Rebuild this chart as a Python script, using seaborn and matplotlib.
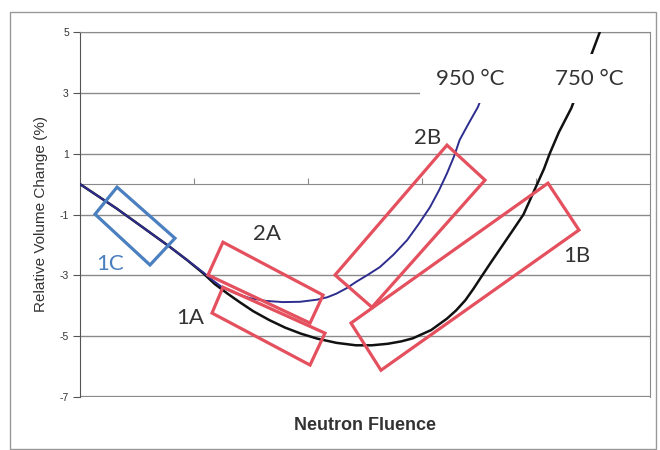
import seaborn as sns
import matplotlib.pyplot as plt
from matplotlib.patches import Polygon, Rectangle

# curves (fluence in arbitrary units, volume change in %)
fluence_750 = [0.0, 0.16, 0.32, 0.55, 0.79, 0.94, 1.08, 1.18, 1.29, 1.4, 1.52, 1.66,
               1.8, 1.94, 2.08, 2.25, 2.42, 2.56, 2.7, 2.82, 2.92, 3.08, 3.22, 3.3,
               3.38, 3.45, 3.52, 3.6, 3.7, 3.8, 3.89, 3.95, 4.01, 4.07, 4.12, 4.2,
               4.31, 4.4, 4.49, 4.56]
change_750 = [0.0, -0.4, -0.8, -1.42, -2.07, -2.5, -2.93, -3.28, -3.59, -3.88, -4.18, -4.47,
              -4.72, -4.92, -5.08, -5.22, -5.3, -5.3, -5.25, -5.17, -5.07, -4.8, -4.42, -4.15,
              -3.82, -3.45, -3.05, -2.6, -2.05, -1.5, -1.0, -0.5, 0.0, 0.5, 1.0, 1.7,
              2.5, 3.4, 4.3, 5.0]

fluence_950 = [0.0, 0.16, 0.32, 0.55, 0.79, 0.94, 1.08, 1.17, 1.25, 1.37, 1.49, 1.63,
               1.78, 1.93, 2.08, 2.17, 2.25, 2.34, 2.42, 2.53, 2.63, 2.75, 2.87, 2.97,
               3.07, 3.15, 3.22, 3.28, 3.33, 3.41, 3.49, 3.56]
change_950 = [0.0, -0.4, -0.8, -1.42, -2.07, -2.5, -2.9, -3.18, -3.4, -3.6, -3.75, -3.84,
              -3.88, -3.87, -3.8, -3.72, -3.6, -3.42, -3.22, -2.97, -2.73, -2.32, -1.84, -1.32,
              -0.76, -0.2, 0.36, 0.9, 1.45, 2.0, 2.53, 3.2]

yticks = [5, 3, 1, -1, -3, -5, -7]
ytick_labels = ["5", "3", "1", "-1", "-3", "-5", "-7"]

# regions drawn on the chart: corner points (fluence, % change)
regions = {
    "1C": [(0.325, -0.10), (0.833, -1.78), (0.614, -2.66), (0.132, -0.99)],
    "2A": [(1.254, -1.91), (2.132, -3.65), (2.018, -4.57), (1.123, -2.99)],
    "1A": [(1.254, -3.39), (2.149, -4.90), (2.018, -5.95), (1.158, -4.24)],
    "2B": [(3.219, 1.28), (3.553, 0.13), (2.561, -4.05), (2.237, -2.99)],
    "1B": [(4.105, 0.03), (4.377, -1.51), (2.640, -6.12), (2.377, -4.57)],
}
region_label_pos = {"1C": (0.26, -2.63), "2A": (1.64, -1.64), "1A": (0.97, -4.4),
                    "2B": (3.05, 1.5), "1B": (4.36, -2.37)}

sns.set_style("white")
plt.rcParams['font.family'] = ['Liberation Sans', 'DejaVu Sans']

fig = plt.figure(figsize=(6.6, 4.5), dpi=100)
ax = fig.add_axes([80/660, 1-397/450, 570/660, 365/450])

sns.lineplot(x=fluence_750, y=change_750, sort=False, estimator=None,
             color='#111111', lw=1.8, ax=ax, zorder=3, solid_joinstyle='round')
sns.lineplot(x=fluence_950, y=change_950, sort=False, estimator=None,
             color='#2d2d8f', lw=1.4, ax=ax, zorder=3, solid_joinstyle='round')

red = '#e4505e'
blue = '#4a7fc0'
for name, pts in regions.items():
    c = blue if name == "1C" else red
    ax.add_patch(Polygon(pts, closed=True, fill=False, ec=c, lw=2.3, zorder=4))
    lx, ly = region_label_pos[name]
    ax.text(lx, ly, name, color=c if name == "1C" else '#333333', fontsize=16,
            family=['Lato', 'DejaVu Sans'], ha='center', va='center', zorder=6)

# white label box that hides the curve ends
ax.add_patch(Rectangle((2.98, 2.65), 2.02, 1.62, fc='white', ec='none', zorder=5))
ax.text(3.42, 3.45, "950 °C", fontsize=16, color='#333333', family=['Lato', 'DejaVu Sans'],
        ha='center', va='center', zorder=6)
ax.text(4.47, 3.45, "750 °C", fontsize=16, color='#333333', family=['Lato', 'DejaVu Sans'],
        ha='center', va='center', zorder=6)

ax.set_xlim(0, 5)
ax.set_ylim(-7, 5)
ax.set_yticks(yticks)
ax.set_yticklabels(ytick_labels, fontsize=7.5, color='#333333')
ax.set_xticks([1, 2, 3, 4])
ax.set_xticklabels([])
ax.yaxis.grid(True, color='#8a8a8a', lw=1)
ax.set_axisbelow(True)

ax.spines['bottom'].set_position(('data', 0))
ax.spines['bottom'].set_color('#8a8a8a')
ax.spines['left'].set_color('#555555')
ax.spines['top'].set_color('#8a8a8a')
ax.spines['right'].set_color('#8a8a8a')
ax.axhline(-7, color='#8a8a8a', lw=1.6, zorder=2)
ax.tick_params(axis='y', direction='out', length=5, width=0.8, color='#555555', left=True, pad=3)
ax.tick_params(axis='x', direction='in', length=4, width=0.8, color='#8a8a8a', bottom=True)

ax.set_ylabel("Relative Volume Change (%)", fontsize=11, color='#333333', labelpad=8)
fig.text(365/660, 1-425/450, "Neutron Fluence", fontsize=13, fontweight='bold',
         color='#333333', ha='center', va='center')

fig.patches.append(Rectangle((10/660, 0.003), 646/660, 1-12/450-0.003, transform=fig.transFigure,
                             fill=False, ec='#999999', lw=1))

plt.savefig('out.png', dpi=100)
